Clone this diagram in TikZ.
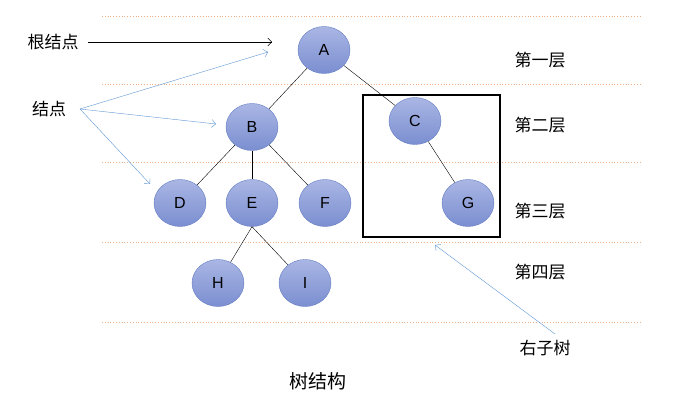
\documentclass[tikz,border=0pt]{standalone}
\usepackage{fontspec}
\setmainfont{Liberation Sans}
\newfontfamily\cjk{Noto Sans CJK SC}
\usetikzlibrary{arrows.meta}
\usetikzlibrary{shapes.geometric}
\definecolor{nodetop}{RGB}{170,182,228}
\definecolor{nodebot}{RGB}{122,142,208}
\definecolor{nodeline}{RGB}{100,125,195}
\definecolor{layerline}{RGB}{240,175,130}
\definecolor{pointer}{RGB}{95,150,210}

\begin{document}
\begin{tikzpicture}[x=1pt,y=-1pt,
	treenode/.style = {ellipse, draw=nodeline, top color=nodetop, bottom color=nodebot, minimum width=52pt, minimum height=47pt, inner sep=0pt, font=\fontsize{16}{18}\selectfont},
	layer/.style = {draw=layerline, dotted, line width=0.8pt},
	cntext/.style = {font=\cjk\fontsize{17}{20}\selectfont, inner sep=0pt}]
				\useasboundingbox (0,0) rectangle (683,401);
				\draw [layer] (102,16) -- (640,16);
				\draw [layer] (102,84) -- (640,84);
				\draw [layer] (102,162) -- (640,162);
				\draw [layer] (102,242) -- (640,242);
				\draw [layer] (102,322) -- (640,322);
				\begin{scope}[every node/.style={treenode}]
					\node (A) at (324,50) {A};
					\node (B) at (252,127) {B};
					\node (C) at (415,121) {C};
					\node (D) at (180,203) {D};
					\node (E) at (252,203) {E};
					\node (F) at (325,203) {F};
					\node (G) at (468,203) {G};
					\node (H) at (218,283) {H};
					\node (I) at (305,283) {I};
				\end{scope}
				\draw [black] (A) -- (B);
				\draw [black] (A) -- (C);
				\draw [black] (B) -- (D);
				\draw [black] (B) -- (E);
				\draw [black] (B) -- (F);
				\draw [black] (C) -- (G);
				\draw [black] (E.south) -- (H);
				\draw [black] (E.south) -- (I);
				\draw [line width=1.6pt] (363,95) rectangle (500,237);
				\node[cntext] (root) at (53,42) {根结点};
				\node[cntext] (nodes) at (49,109) {结点};
				\node[cntext] (L1) at (540,60) {第一层};
				\node[cntext] (L2) at (540,125) {第二层};
				\node[cntext] (L3) at (540,211) {第三层};
				\node[cntext] (L4) at (540,272) {第四层};
				\node[cntext] (right) at (545,348) {右子树};
				\node[cntext, font=\cjk\fontsize{19}{22}\selectfont] (title) at (318,381) {树结构};
				\coordinate (rootTail) at (88,42);
				\coordinate (rootTip) at (272,42);
				\coordinate (fork) at (80,109);
				\coordinate (tipA) at (268,52);
				\coordinate (tipB) at (216,124);
				\coordinate (tipD) at (150,184);
				\coordinate (boxTail) at (555,334);
				\coordinate (tipBox) at (435,245);
				\draw [-{Straight Barb[length=4pt]}, black] (rootTail) -- (rootTip);
				\draw [-{Straight Barb[length=4pt]}, pointer] (fork) -- (tipA);
				\draw [-{Straight Barb[length=4pt]}, pointer] (fork) -- (tipB);
				\draw [-{Straight Barb[length=4pt]}, pointer] (fork) -- (tipD);
				\draw [-{Straight Barb[length=4pt]}, pointer] (boxTail) -- (tipBox);
			\end{tikzpicture}
\end{document}
